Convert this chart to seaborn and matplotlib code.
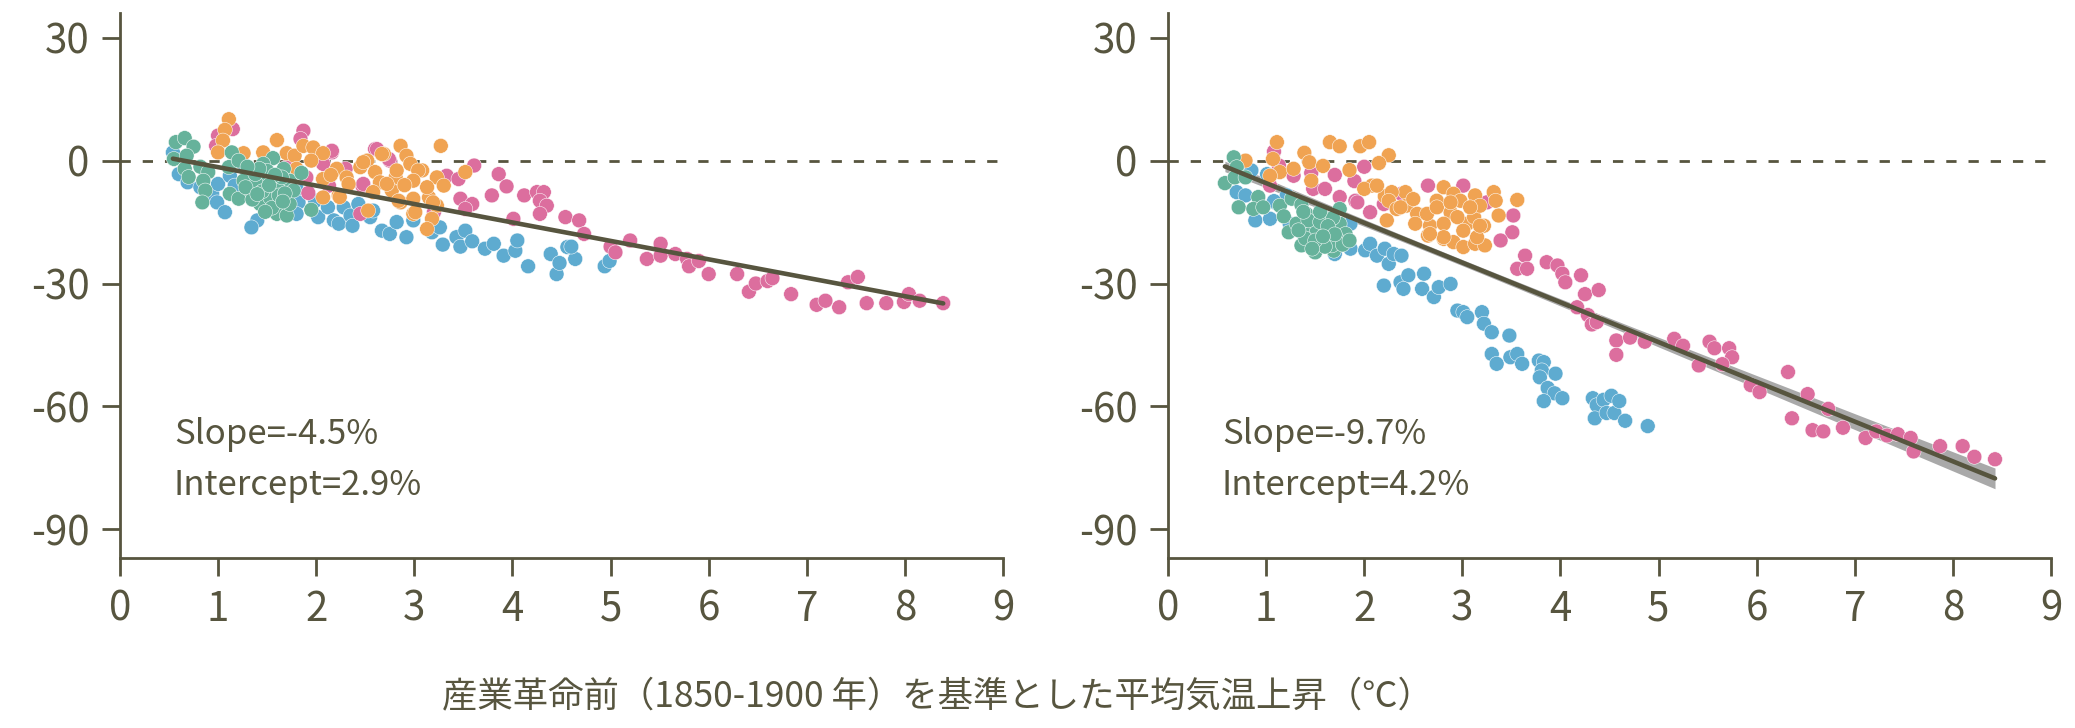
import numpy as np
import pandas as pd
import matplotlib
matplotlib.use("Agg")
import matplotlib.pyplot as plt
import seaborn as sns

# ---------------- data ----------------
groups = ["blue", "pink", "orange", "green"]
palette = {"blue": "#5eabd0", "pink": "#dc6e9e", "orange": "#f0a352", "green": "#66b29b"}

left_blue = [(0.54,2.0),(0.60,-3.3),(0.69,-5.3),(0.82,-6.5),(0.94,-8.1),(1.00,-5.7),(0.99,-10.2),(1.07,-12.6),
             (1.12,-3.7),(1.28,-2.0),(1.17,-6.1),(1.40,-14.6),(1.34,-16.3),(1.80,-6.9),(1.82,-10.2),(1.80,-13.0),
             (1.99,-9.8),(2.02,-13.8),(2.12,-11.4),(2.18,-14.6),(2.28,-11.4),(2.23,-15.4),(2.35,-13.4),(2.37,-15.9),
             (2.43,-10.6),(2.55,-13.8),(2.58,-12.2),(2.67,-17.1),(2.75,-17.9),(2.82,-15.0),(2.92,-18.7),(2.99,-14.6),
             (3.18,-17.5),(3.26,-16.3),(3.29,-20.5),(3.43,-18.7),(3.52,-17.1),(3.47,-21.0),(3.59,-19.7),(3.72,-21.5),
             (3.81,-20.3),(3.91,-23.2),(4.03,-22.0),(4.05,-19.5),(4.16,-25.8),(4.39,-22.8),(4.45,-27.7),(4.48,-25.0),
             (4.56,-21.1),(4.64,-24.0),(4.60,-21.0),(4.94,-25.8),(4.99,-24.5),(1.55,-8.0),(1.70,-11.0)]
left_green = [(0.57,4.5),(0.66,5.5),(0.75,3.4),(0.55,0.4),(0.68,1.2),(0.66,-2.0),(0.70,-4.0),(0.82,-1.5),(0.90,-2.8),
              (0.85,-4.9),(0.87,-7.3),(0.84,-10.2),(1.14,2.0),(1.11,-1.6),(1.21,0.0),(1.12,-8.1),(1.21,-9.3),(1.26,-4.9),
              (1.50,-4.9),(1.56,0.6),(1.46,-0.8),(1.67,-2.0),(1.73,-4.9),(1.33,-7.3),(1.43,-10.6),(1.60,-13.0),(1.70,-13.4),
              (1.73,-10.6),(1.53,-9.0),(1.39,-5.7),(1.60,-6.5),(1.65,-4.1),(1.38,-3.3),(1.77,-7.3),(1.50,-2.5),(1.45,-7.5),
              (1.55,-11.5),(1.62,-8.5),(1.35,-9.5),(1.42,-2.0),(1.58,-3.5),(1.68,-8.0),(1.30,-1.5),(1.48,-12.5),(1.85,-3.0),
              (1.95,-12.0),(1.28,-6.5),(1.52,-6.0),(1.40,-8.2),(1.66,-10.0)]
left_orange = [(1.11,10.1),(1.07,7.5),(1.05,4.9),(1.00,2.0),(1.26,1.8),(1.46,2.0),(1.60,5.0),(1.70,1.8),(1.78,1.2),
               (1.87,3.6),(1.97,3.2),(2.07,1.8),(1.80,-2.0),(2.07,-4.5),(2.21,-2.0),(2.31,-4.1),(2.23,-8.5),(2.07,-9.0),
               (2.52,0.0),(2.45,-1.6),(2.60,-2.8),(2.69,1.6),(2.86,3.6),(2.92,1.2),(2.96,-0.8),(3.08,-2.4),(2.81,-4.1),
               (2.65,-5.3),(2.58,-7.7),(2.77,-7.3),(2.86,-10.2),(2.99,-9.3),(3.15,-9.0),(3.23,-11.0),(2.99,-13.0),
               (3.18,-14.2),(3.13,-16.7),(3.27,3.6),(3.23,-4.1),(3.30,-6.1),(3.52,-2.8),(2.53,-12.2),(2.67,1.6),
               (2.48,-0.4),(2.82,-2.4),(3.04,-2.4),(2.33,-5.7),(2.72,-5.7),(2.99,-4.9),(2.24,-8.9),(2.84,-9.8),
               (3.19,-10.2),(3.01,-12.6),(3.13,-6.5),(2.90,-6.0),(1.95,0.0),(2.15,-3.5)]
left_pink = [(1.00,6.1),(1.15,7.7),(0.98,3.6),(1.87,7.3),(1.84,5.3),(2.16,2.0),(2.07,-0.8),(1.90,-4.1),(1.73,-0.8),
             (1.92,-7.9),(2.13,-6.1),(2.30,-2.0),(2.47,-6.1),(2.60,2.8),(2.75,0.0),(3.33,-3.7),(3.45,-4.5),(3.61,-1.2),
             (3.47,-9.3),(3.59,-10.6),(3.52,-11.8),(2.45,-13.0),(3.20,-12.6),(3.79,-8.5),(3.86,-3.3),(3.94,-6.3),
             (2.16,2.4),(2.62,2.8),(2.74,0.4),(2.48,-5.7),(4.01,-14.2),(4.12,-8.5),(4.25,-7.7),(4.32,-7.7),(4.28,-9.8),
             (4.35,-11.0),(4.28,-13.0),(4.54,-13.8),(4.68,-14.6),(4.73,-17.9),(5.00,-21.0),(5.05,-22.4),(5.20,-19.5),
             (5.37,-24.0),(5.51,-20.3),(5.51,-23.2),(5.66,-22.8),(5.78,-24.0),(5.80,-25.8),(5.90,-24.5),(6.00,-27.7),
             (6.29,-27.7),(6.41,-32.0),(6.48,-30.0),(6.60,-29.4),(6.65,-28.7),(6.84,-32.6),(7.10,-35.2),(7.19,-34.2),
             (7.33,-35.8),(7.42,-29.7),(7.52,-28.4),(7.61,-34.8),(7.81,-34.8),(7.99,-34.5),(8.04,-32.6),(8.15,-34.2),
             (8.39,-34.8)]

right_blue = [(0.85,-2.4),(0.70,-7.7),(0.79,-8.5),(1.01,-3.3),(0.89,-14.6),(1.04,-14.2),(1.09,-10.2),(1.21,-8.5),
              (1.08,-9.9),(1.24,-15.4),(1.38,-17.9),(1.70,-22.8),(1.86,-15.4),(1.86,-21.5),(2.01,-21.9),(2.06,-20.3),
              (2.13,-23.2),(2.21,-21.5),(2.25,-25.2),(2.30,-22.8),(2.38,-23.2),(2.20,-30.5),(2.37,-29.7),(2.45,-28.0),
              (2.40,-31.3),(2.61,-27.6),(2.59,-31.3),(2.71,-33.3),(2.76,-30.9),(2.88,-30.1),(2.95,-36.6),(3.01,-37.0),
              (3.05,-38.2),(3.20,-37.0),(3.22,-39.8),(3.30,-41.9),(3.48,-42.7),(3.30,-47.2),(3.35,-49.6),(3.49,-48.0),
              (3.56,-47.2),(3.61,-49.6),(3.78,-48.8),(3.83,-49.2),(3.81,-51.2),(3.95,-52.0),(3.79,-52.9),(3.87,-55.5),
              (3.94,-56.8),(4.02,-58.0),(3.83,-58.7),(4.33,-58.0),(4.37,-59.7),(4.44,-58.4),(4.35,-62.9),(4.47,-61.6),
              (4.55,-61.6),(4.52,-57.4),(4.60,-58.7),(4.66,-63.5),(4.89,-64.8)]
right_green = [(0.67,0.8),(0.70,-1.6),(0.58,-5.5),(0.68,-4.1),(0.79,-4.1),(0.72,-11.4),(0.92,-8.9),(0.87,-11.8),
               (0.97,-11.4),(1.14,-11.0),(1.18,-13.6),(1.23,-17.5),(1.26,-9.3),(1.36,-10.8),(1.31,-15.4),(1.41,-13.0),
               (1.48,-15.4),(1.58,-13.8),(1.65,-16.3),(1.75,-15.4),(1.81,-17.9),(1.75,-11.8),(1.36,-20.7),(1.50,-22.4),
               (1.69,-22.0),(1.58,-19.9),(1.45,-17.9),(1.72,-19.1),(1.52,-17.1),(1.62,-17.9),(1.67,-20.7),(1.43,-14.6),
               (1.55,-15.0),(1.40,-19.0),(1.60,-21.0),(1.78,-20.5),(1.50,-19.5),(1.68,-14.0),(1.33,-17.0),(1.85,-19.5),
               (1.55,-12.5),(1.47,-21.5),(1.63,-16.0),(1.70,-18.0),(1.38,-12.5),(1.58,-18.5)]
right_orange = [(0.79,0.0),(1.11,4.5),(1.07,0.4),(1.14,-2.8),(1.04,-3.7),(1.28,-2.0),(1.39,1.9),(1.44,-0.4),(1.46,-4.9),
                (1.65,4.5),(1.75,3.5),(1.96,3.5),(2.05,4.5),(2.25,1.3),(2.15,-0.6),(1.85,-2.3),(1.58,-1.3),(2.08,-6.1),
                (2.21,-8.7),(2.42,-7.7),(2.00,-6.9),(2.13,-6.1),(2.28,-7.7),(2.25,-9.8),(2.33,-11.8),(2.43,-11.0),
                (2.50,-9.4),(2.54,-13.0),(2.23,-14.6),(2.52,-15.4),(2.67,-15.9),(2.65,-18.3),(2.74,-9.8),(2.81,-6.5),
                (2.91,-8.1),(2.98,-9.8),(2.88,-12.6),(2.81,-19.1),(2.91,-19.9),(3.01,-21.1),(3.05,-15.4),(3.12,-13.8),
                (3.13,-8.5),(3.18,-11.0),(3.22,-15.9),(3.13,-20.3),(3.23,-20.7),(3.32,-7.7),(3.37,-13.4),(3.56,-9.6),
                (2.37,-11.4),(2.64,-13.0),(2.74,-11.4),(2.81,-15.4),(2.81,-18.7),(2.95,-13.8),(3.01,-17.1),(3.08,-11.4),
                (3.15,-18.7),(3.18,-15.9),(3.34,-9.8),(2.88,-10.2),(2.67,-17.9)]
right_pink = [(1.08,2.2),(1.13,-1.2),(1.04,-6.1),(1.28,-3.7),(1.46,-3.0),(1.48,-6.9),(1.60,-6.9),(1.75,-8.9),(1.91,-9.8),
              (2.06,-12.6),(2.20,-10.6),(2.38,-8.1),(2.65,-6.1),(3.01,-6.1),(3.25,-10.2),(3.52,-13.4),(3.51,-17.5),
              (3.39,-19.5),(3.64,-23.2),(3.56,-26.4),(3.66,-26.4),(3.86,-24.8),(3.97,-25.6),(4.02,-27.6),(4.05,-29.7),
              (4.21,-28.0),(4.25,-32.6),(4.39,-31.6),(4.17,-35.8),(4.28,-37.7),(4.32,-40.0),(4.37,-39.4),(4.57,-43.9),
              (4.71,-43.2),(4.57,-47.4),(4.86,-44.2),(5.16,-43.5),(5.25,-45.2),(5.41,-50.0),(5.52,-44.2),(5.57,-45.8),
              (5.72,-45.8),(5.75,-48.0),(5.65,-49.7),(5.94,-54.8),(6.03,-56.5),(6.32,-51.6),(6.36,-62.9),(6.52,-57.0),
              (6.57,-65.8),(6.68,-66.1),(6.73,-60.6),(6.88,-65.2),(7.11,-67.7),(7.22,-66.1),(7.33,-67.1),(7.44,-66.8),
              (7.57,-67.7),(7.60,-71.0),(7.87,-69.7),(8.10,-69.7),(8.22,-72.3),(8.43,-72.9),(1.93,-10.2),(1.70,-3.5),
              (1.90,-5.0),(2.00,-1.5)]

slopes = [-4.5, -9.7]
intercepts = [2.9, 4.2]
annot_labels = [["Slope=-4.5%", "Intercept=2.9%"], ["Slope=-9.7%", "Intercept=4.2%"]]
x_ticks = [0, 1, 2, 3, 4, 5, 6, 7, 8, 9]
y_ticks = [30, 0, -30, -60, -90]
xlabel = "産業革命前（1850-1900 年）を基準とした平均気温上昇（℃）"

panels = [
    {"blue": left_blue, "pink": left_pink, "orange": left_orange, "green": left_green},
    {"blue": right_blue, "pink": right_pink, "orange": right_orange, "green": right_green},
]

# ---------------- style ----------------
INK = "#57553f"
sns.set_style("ticks")
plt.rcParams["font.family"] = ["Noto Sans CJK JP", "DejaVu Sans"]
plt.rcParams["axes.unicode_minus"] = False

fig = plt.figure(figsize=(20.75, 7.28), dpi=100)
axes = [fig.add_axes([0.0578, 0.2335, 0.4256, 0.7485]),
        fig.add_axes([0.5629, 0.2335, 0.4255, 0.7485])]

for i, ax in enumerate(axes):
    rows = []
    for g in groups:
        for (xv, yv) in panels[i][g]:
            rows.append({"group": g, "x": xv, "y": yv})
    df = pd.DataFrame(rows)

    # zero reference
    ax.axhline(0, color=INK, lw=2.0, dashes=(3.7, 4.3), zorder=1)

    # fit band (standard error around the reported fit)
    xs = np.linspace(df.x.min(), df.x.max(), 200)
    ys = intercepts[i] + slopes[i] * xs
    if i == 1:
        resid = df.y - (intercepts[i] + slopes[i] * df.x)
        n = len(df)
        s = np.sqrt((resid ** 2).sum() / (n - 2))
        sxx = ((df.x - df.x.mean()) ** 2).sum()
        se = 1.1 * s * np.sqrt(1.0 / n + (xs - df.x.mean()) ** 2 / sxx)
        ax.fill_between(xs, ys - se, ys + se, color="#a9a9a9", lw=0, zorder=1.5)

    sns.scatterplot(data=df, x="x", y="y", hue="group", palette=palette, s=115,
                    edgecolor="white", linewidth=0.35, legend=False, ax=ax, zorder=2)

    sns.lineplot(x=xs, y=ys, color=INK, lw=3.3, ax=ax, zorder=3)

    ax.text(0.55, -66.8, annot_labels[i][0], fontsize=25, color=INK, va="center")
    ax.text(0.55, -79.4, annot_labels[i][1], fontsize=25, color=INK, va="center")

    ax.set_xlim(0, 9)
    ax.set_ylim(-97, 36)
    ax.set_xticks(x_ticks)
    ax.set_yticks(y_ticks)
    ax.set_xlabel("")
    ax.set_ylabel("")
    for side in ["top", "right"]:
        ax.spines[side].set_visible(False)
    for side in ["left", "bottom"]:
        ax.spines[side].set_color(INK)
        ax.spines[side].set_linewidth(2.0)
    ax.tick_params(axis="both", colors=INK, labelcolor=INK, labelsize=29,
                   width=2.0, length=13, pad=9, direction="out")

fig.text(0.452, 0.042, xlabel, ha="center", va="center", fontsize=25.5, color=INK)

fig.savefig("out.png", dpi=100)
